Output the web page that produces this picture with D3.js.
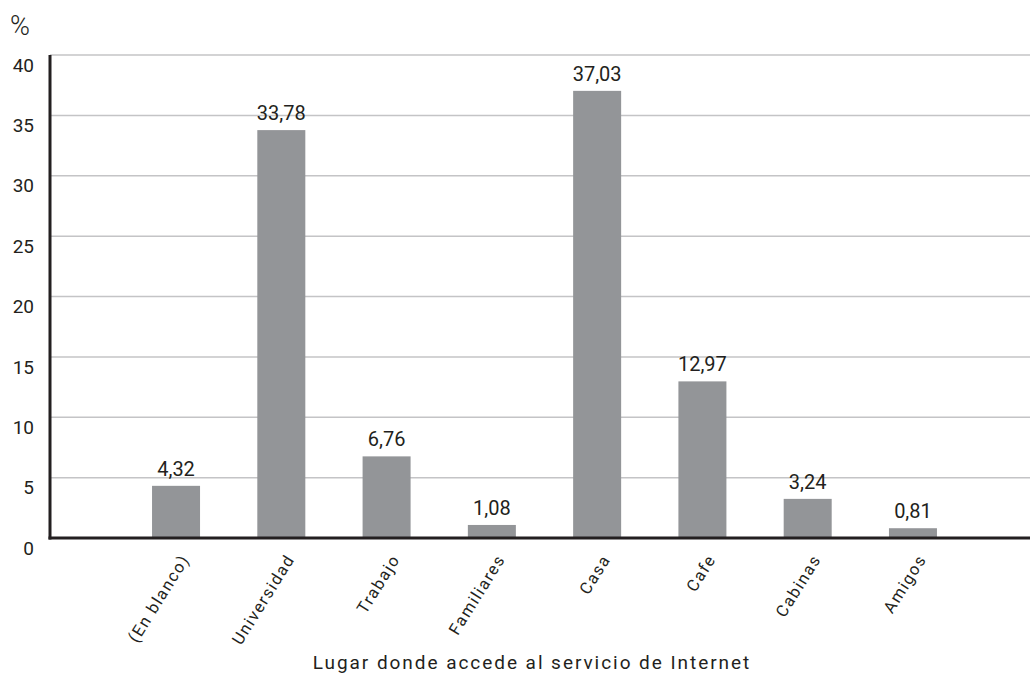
<!DOCTYPE html>
<html>
<head>
<meta charset="utf-8">
<script src="https://cdn.jsdelivr.net/npm/d3@7"></script>
<style>
  html, body { margin: 0; padding: 0; background: #fff; }
  svg { display: block; font-family: Roboto, "Noto Sans", sans-serif; }
</style>
</head>
<body>
<svg id="chart" width="1030" height="676"></svg>
<script>
const categories = ["(En blanco)", "Universidad", "Trabajo", "Familiares", "Casa", "Cafe", "Cabinas", "Amigos"];
const values = [4.32, 33.78, 6.76, 1.08, 37.03, 12.97, 3.24, 0.81];
const yTicks = [0, 5, 10, 15, 20, 25, 30, 35, 40];
const yUnit = "%";
const xTitle = "Lugar donde accede al servicio de Internet";

const svg = d3.select("#chart");
const textColor = "#231f20";

const y = d3.scaleLinear().domain([0, 40]).range([538, 55]);
const x = d3.scaleBand().domain(categories).range([123.4, 965.6]).paddingInner(0.544).paddingOuter(0.272);

// gridlines
svg.append("g").selectAll("line").data(yTicks.filter(d => d > 0)).join("line")
  .attr("x1", 50).attr("x2", 1030)
  .attr("y1", d => y(d)).attr("y2", d => y(d))
  .attr("stroke", "#c4c4c6").attr("stroke-width", 1.5);

// bars
svg.append("g").selectAll("rect").data(values).join("rect")
  .attr("x", (d, i) => x(categories[i]))
  .attr("width", x.bandwidth())
  .attr("y", d => y(d))
  .attr("height", d => y(0) - y(d))
  .attr("fill", "#939598");

// value labels
const fmt = d => d.toFixed(2).replace(".", ",");
svg.append("g").selectAll("text").data(values).join("text")
  .attr("x", (d, i) => x(categories[i]) + x.bandwidth() / 2)
  .attr("y", d => y(d) - 10)
  .attr("text-anchor", "middle")
  .attr("font-size", 20)
  .attr("fill", textColor)
  .text(fmt);

// axes lines
svg.append("line").attr("x1", 50).attr("x2", 50).attr("y1", y(40)).attr("y2", y(0) + 1.5)
  .attr("stroke", textColor).attr("stroke-width", 3);
svg.append("line").attr("x1", 48.5).attr("x2", 1030).attr("y1", y(0)).attr("y2", y(0))
  .attr("stroke", textColor).attr("stroke-width", 3);

// y tick labels
svg.append("g").selectAll("text").data(yTicks).join("text")
  .attr("x", 34)
  .attr("y", d => y(d) + 10)
  .attr("dy", "0.35em")
  .attr("text-anchor", "end")
  .attr("font-size", 19)
  .attr("fill", textColor)
  .text(d => d);

svg.append("text").attr("x", 10).attr("y", 35).attr("font-size", 27).attr("font-weight", 300).attr("fill", textColor).text(yUnit);

// x labels
svg.append("g").selectAll("text").data(categories).join("text")
  .attr("transform", d => `translate(${x(d) + x.bandwidth() / 2 + 14},559) rotate(-58)`)
  .attr("text-anchor", "end")
  .attr("font-size", 16.5)
  .attr("letter-spacing", 1.5)
  .attr("fill", textColor)
  .text(d => d);

// x title
svg.append("text").attr("x", 532).attr("y", 669)
  .attr("text-anchor", "middle")
  .attr("font-size", 19)
  .attr("letter-spacing", 1.95)
  .attr("fill", textColor)
  .text(xTitle);
</script>
</body>
</html>
